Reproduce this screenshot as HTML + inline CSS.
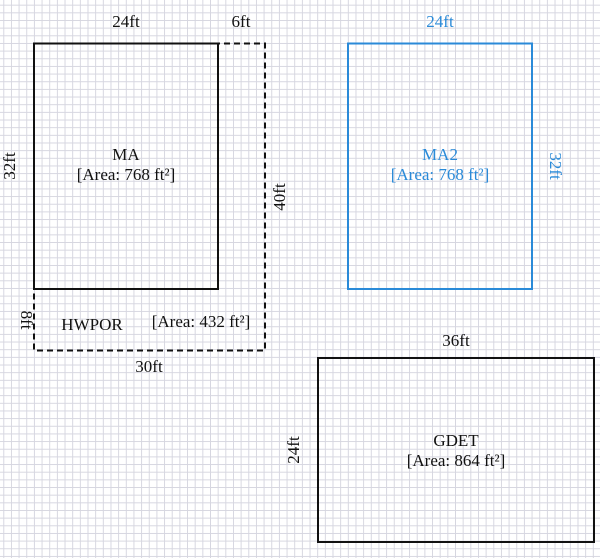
<!DOCTYPE html>
<html><head><style>
body{margin:0;width:600px;height:558px;overflow:hidden;background:#fff;
background-image:linear-gradient(to right,#d6d6e0 1px,transparent 1px),linear-gradient(to bottom,#d6d6e0 1px,transparent 1px);
background-size:7.667px 7.667px;background-position:3.3px 4.7px;}
svg{position:absolute;left:0;top:0}
text{font-family:"Liberation Serif",serif;font-size:17px;fill:#111}
.b text{fill:#2a8ad8}
</style></head><body>
<svg width="600" height="558">
<rect x="34" y="43.5" width="231" height="307" fill="none" stroke="#111" stroke-width="2" stroke-dasharray="6,4"/>
<rect x="34" y="43.5" width="184" height="245.5" fill="none" stroke="#111" stroke-width="2"/>
<text x="126" y="27" text-anchor="middle">24ft</text>
<text x="241" y="27" text-anchor="middle">6ft</text>
<text x="126" y="160" text-anchor="middle">MA</text>
<text x="126" y="180" text-anchor="middle">[Area: 768 ft²]</text>
<text transform="translate(15,166) rotate(-90)" text-anchor="middle">32ft</text>
<text transform="translate(285,197) rotate(-90)" text-anchor="middle">40ft</text>
<text transform="translate(21,320) rotate(90)" text-anchor="middle">8ft</text>
<text x="92" y="330" text-anchor="middle">HWPOR</text>
<text x="201" y="327" text-anchor="middle">[Area: 432 ft²]</text>
<text x="149" y="372" text-anchor="middle">30ft</text>
<g class="b">
<rect x="348" y="43.5" width="184" height="245.5" fill="none" stroke="#2a8ad8" stroke-width="2"/>
<text x="440" y="27" text-anchor="middle">24ft</text>
<text x="440" y="160" text-anchor="middle">MA2</text>
<text x="440" y="180" text-anchor="middle">[Area: 768 ft²]</text>
<text transform="translate(550,166) rotate(90)" text-anchor="middle">32ft</text>
</g>
<rect x="318" y="358" width="276" height="184" fill="none" stroke="#111" stroke-width="2"/>
<text x="456" y="346" text-anchor="middle">36ft</text>
<text x="456" y="446" text-anchor="middle">GDET</text>
<text x="456" y="466" text-anchor="middle">[Area: 864 ft²]</text>
<text transform="translate(299,450) rotate(-90)" text-anchor="middle">24ft</text>
</svg>
</body></html>
